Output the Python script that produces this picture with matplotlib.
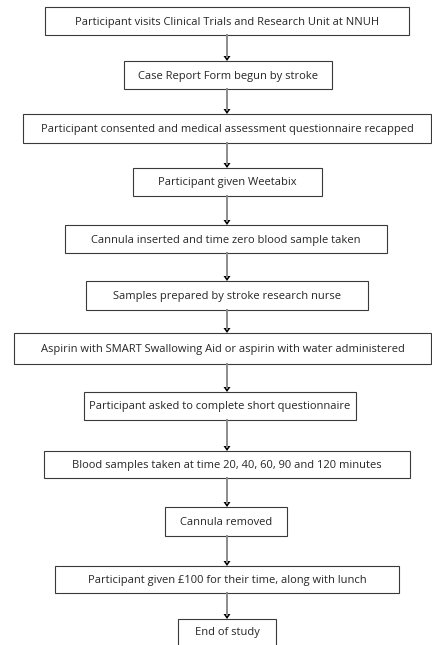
import matplotlib
matplotlib.use("Agg")
import matplotlib.pyplot as plt
from matplotlib.patches import Rectangle

# flow steps, top to bottom
steps = [
    "Participant visits Clinical Trials and Research Unit at NNUH",
    "Case Report Form begun by stroke",
    "Participant consented and medical assessment questionnaire recapped",
    "Participant given Weetabix",
    "Cannula inserted and time zero blood sample taken",
    "Samples prepared by stroke research nurse",
    "Aspirin with SMART Swallowing Aid or aspirin with water administered",
    "Participant asked to complete short questionnaire",
    "Blood samples taken at time 20, 40, 60, 90 and 120 minutes",
    "Cannula removed",
    "Participant given \u00a3100 for their time, along with lunch",
    "End of study",
]

# box extents in pixels (left, right, top, bottom)
box_left = [45, 124, 23, 133, 65, 86, 14, 84, 44, 165, 55, 178]
box_right = [409, 332, 431, 322, 387, 368, 431, 356, 410, 287, 399, 276]
box_top = [7, 61, 114, 168, 225, 281, 333, 392, 451, 507, 566, 619]
box_bottom = [35, 89, 143, 196, 253, 310, 364, 420, 478, 536, 593, 650]

arrow_x = 227

fig = plt.figure(figsize=(4.32, 6.45), dpi=100)
ax = fig.add_axes([0, 0, 1, 1])
ax.set_xlim(0, 432)
ax.set_ylim(645, 0)
ax.axis("off")

for i, label in enumerate(steps):
    l, r, t, b = box_left[i], box_right[i], box_top[i], box_bottom[i]
    ax.add_patch(Rectangle((l, t), r - l, b - t, facecolor="white",
                           edgecolor="#3a3a3a", linewidth=0.8))
    if i < len(steps) - 1:
        cy = (t + b) / 2 + 1
    else:
        cy = t + 13
    ax.text((l + r) / 2, cy, label, ha="center", va="center",
            fontsize=8.0, family="Open Sans", color="#262626")

# connecting arrows
for i in range(len(steps) - 1):
    y0 = box_bottom[i]
    y1 = box_top[i + 1]
    ax.plot([arrow_x, arrow_x], [y0, y1 - 4], color="#8c8c8c", linewidth=1.4)
    ax.fill([arrow_x - 3.5, arrow_x + 3.5, arrow_x], [y1 - 5, y1 - 5, y1],
            color="black", linewidth=0)

fig.savefig("out.png", dpi=100)
